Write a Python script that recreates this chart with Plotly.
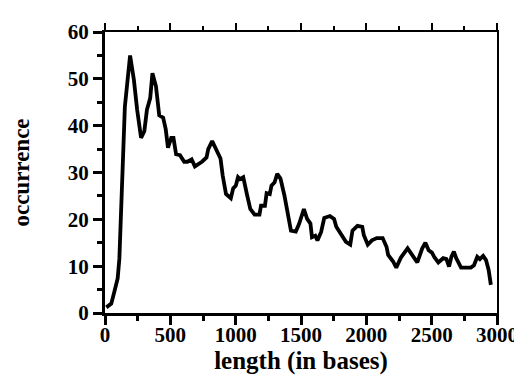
import plotly.graph_objects as go

length_bases = [10, 48, 72, 97, 110, 122, 152, 192, 221, 246, 276, 301, 321, 346, 363, 390,
                415, 445, 465, 482, 507, 524, 544, 574, 586, 606, 631, 663, 688, 742, 777, 790,
                820, 852, 884, 901, 926, 963, 981, 1001, 1018, 1033, 1058, 1088, 1112, 1145,
                1182, 1194, 1224, 1237, 1261, 1274, 1298, 1318, 1343, 1373, 1398, 1423, 1460,
                1485, 1522, 1547, 1572, 1584, 1609, 1626, 1654, 1678, 1721, 1753, 1770, 1807,
                1844, 1877, 1894, 1932, 1969, 1981, 2011, 2043, 2080, 2125, 2155, 2167, 2205,
                2229, 2266, 2316, 2353, 2390, 2428, 2452, 2477, 2502, 2521, 2551, 2588, 2613,
                2633, 2651, 2670, 2688, 2725, 2800, 2824, 2849, 2869, 2894, 2916, 2936, 2953]
occurrence = [1.2, 2.0, 4.6, 7.4, 11.6, 20.8, 44.0, 55.0, 49.8, 43.4, 37.4, 38.8, 43.4, 45.9,
              51.2, 48.4, 42.2, 41.7, 39.2, 35.3, 37.4, 37.4, 33.9, 33.7, 33.0, 32.3, 32.3,
              32.8, 31.3, 32.3, 33.2, 35.0, 36.7, 34.6, 33.0, 29.3, 25.4, 24.5, 26.6, 27.2,
              29.0, 28.6, 29.0, 25.1, 22.2, 21.0, 21.0, 22.9, 22.9, 25.6, 25.4, 27.2, 27.9,
              29.7, 28.7, 25.1, 21.5, 17.6, 17.4, 19.0, 22.2, 20.1, 19.1, 16.2, 16.5, 15.5,
              17.3, 20.3, 20.7, 20.1, 18.4, 16.6, 15.2, 14.6, 17.6, 18.6, 18.4, 16.6, 14.6,
              15.5, 16.0, 16.0, 14.1, 12.4, 11.0, 9.7, 11.9, 13.8, 12.2, 10.8, 13.8, 15.0,
              13.4, 12.9, 11.9, 10.8, 11.7, 11.5, 9.9, 12.0, 13.1, 11.7, 9.7, 9.7, 10.2,
              12.0, 11.5, 12.2, 11.3, 9.2, 6.0]

x_tick_values = [0, 500, 1000, 1500, 2000, 2500, 3000]
y_tick_values = [0, 10, 20, 30, 40, 50, 60]

FONT = "Liberation Serif"

fig = go.Figure()
fig.add_trace(go.Scatter(x=length_bases, y=occurrence, mode="lines",
                         line=dict(color="black", width=3.8), showlegend=False,
                         hoverinfo="skip"))
# invisible trace to carry the top/right frame axes
fig.add_trace(go.Scatter(x=length_bases, y=occurrence, mode="lines", xaxis="x2", yaxis="y2",
                         line=dict(color="rgba(0,0,0,0)", width=0), showlegend=False,
                         hoverinfo="skip"))

tickfont = dict(family=FONT, size=21, color="black", weight="bold")

fig.update_layout(
    width=522, height=378,
    margin=dict(l=96, r=24, t=22, b=73),
    paper_bgcolor="white", plot_bgcolor="white",
    font=dict(family=FONT, color="black"),
    xaxis=dict(range=[0, 3000], tickvals=x_tick_values, ticks="outside", ticklen=9,
               tickwidth=2.5, tickcolor="black", showline=True, linewidth=3, linecolor="black",
               showgrid=False, zeroline=False, tickfont=tickfont, ticklabelstandoff=-8,
               minor=dict(dtick=250, tick0=0, ticks="outside", ticklen=5, tickwidth=2.5,
                          tickcolor="black", showgrid=False),
               title=dict(text="length (in bases)", standoff=0,
                          font=dict(family=FONT, size=25, color="black", weight="bold"))),
    yaxis=dict(range=[0, 60], tickvals=y_tick_values, ticks="outside", ticklen=9,
               tickwidth=2.5, tickcolor="black", showline=True, linewidth=3, linecolor="black",
               showgrid=False, zeroline=False, tickfont=tickfont,
               minor=dict(dtick=5, tick0=0, ticks="outside", ticklen=5, tickwidth=2.5,
                          tickcolor="black", showgrid=False),
               title=dict(text="occurrence", standoff=32,
                          font=dict(family=FONT, size=23, color="black", weight="bold"))),
    xaxis2=dict(range=[0, 3000], overlaying="x", side="top", anchor="y", tickvals=x_tick_values,
                ticks="outside", ticklen=7, tickwidth=2, tickcolor="black", showticklabels=False,
                showline=True, linewidth=2, linecolor="black", showgrid=False, zeroline=False,
                minor=dict(dtick=250, tick0=0, ticks="outside", ticklen=4, tickwidth=2,
                           tickcolor="black", showgrid=False)),
    yaxis2=dict(range=[0, 60], overlaying="y", side="right", anchor="x", ticks="",
                showticklabels=False, showline=True, linewidth=2, linecolor="black",
                showgrid=False, zeroline=False),
)

fig.write_html("out.html")
